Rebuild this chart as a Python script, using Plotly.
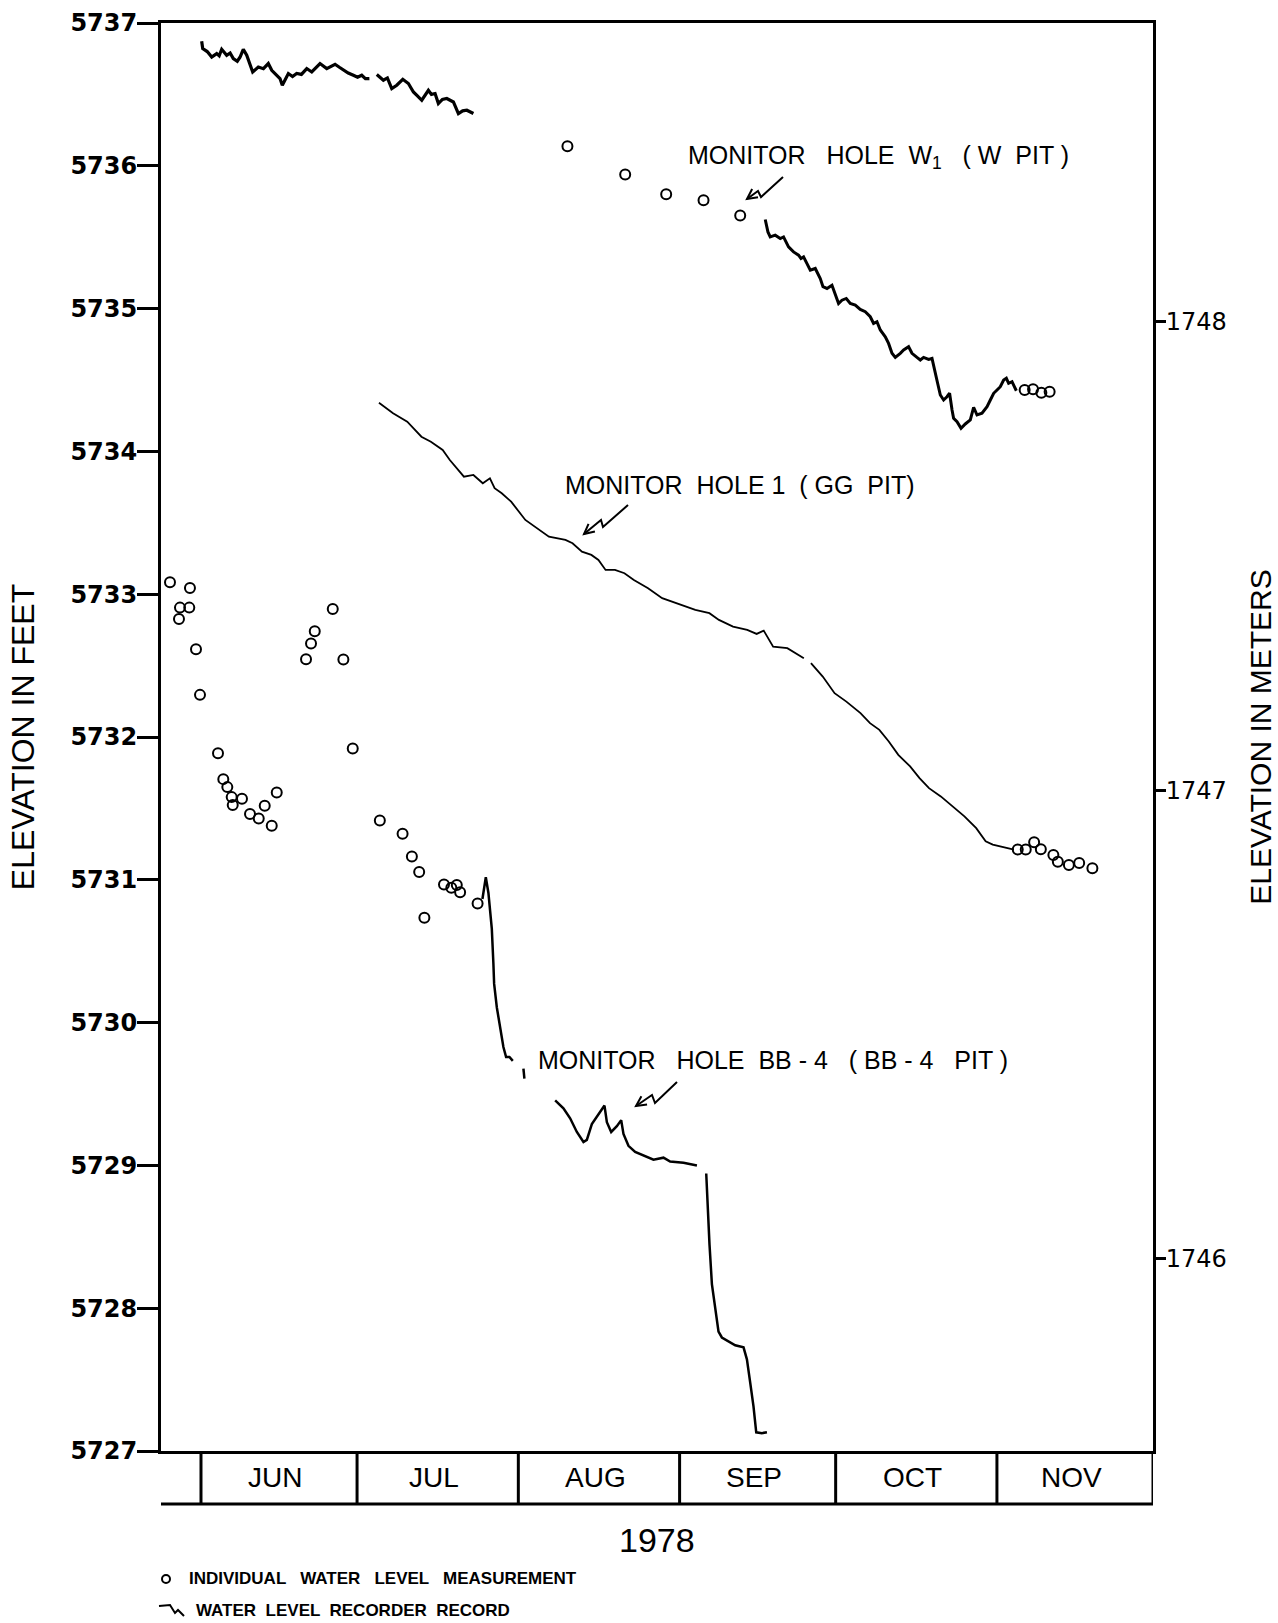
import math
import pandas as pd
import plotly.graph_objects as go

# ---------------------------------------------------------------------------
# Water-level data, 1978.  Time is day-of-year (1 = Jan 1), level in feet.
# None breaks a recorder trace where the chart has gaps.
# ---------------------------------------------------------------------------

# Monitor hole W1 (W pit): recorder record, June-July
w1_rec_early = [
    (152.13, 5736.872), (152.33, 5736.821), (153.20, 5736.800), (154.06, 5736.762),
    (155.02, 5736.786), (155.50, 5736.770), (155.98, 5736.816), (156.94, 5736.774),
    (157.60, 5736.790), (158.21, 5736.751), (158.98, 5736.732), (159.50, 5736.760),
    (160.13, 5736.816), (160.79, 5736.774), (161.94, 5736.657), (163.02, 5736.692),
    (164.00, 5736.680), (164.94, 5736.716), (165.60, 5736.669), (166.40, 5736.640),
    (167.19, 5736.611), (167.63, 5736.564), (168.79, 5736.646), (169.60, 5736.625),
    (170.40, 5736.646), (171.30, 5736.640), (172.33, 5736.681), (173.29, 5736.657),
    (174.10, 5736.690), (174.88, 5736.716), (176.17, 5736.681), (177.00, 5736.700),
    (177.77, 5736.711), (178.60, 5736.690), (179.37, 5736.669), (180.30, 5736.650),
    (181.29, 5736.634), (182.10, 5736.620), (182.90, 5736.634), (183.60, 5736.610),
    (184.37, 5736.611), (None, None),
    (185.79, 5736.639), (187.06, 5736.599), (187.83, 5736.615), (188.67, 5736.541),
    (189.63, 5736.564), (190.79, 5736.606), (191.87, 5736.576), (192.83, 5736.517),
    (193.60, 5736.490), (194.44, 5736.459), (195.71, 5736.529), (196.30, 5736.500),
    (197.00, 5736.506), (197.63, 5736.436), (198.40, 5736.465), (199.25, 5736.471),
    (200.52, 5736.447), (201.48, 5736.366), (202.30, 5736.385), (203.10, 5736.389),
    (204.37, 5736.366),
]

# Monitor hole W1: recorder record, September-November
w1_rec_late = [
    (260.46, 5735.624), (260.98, 5735.537), (261.42, 5735.502), (262.38, 5735.514),
    (263.35, 5735.491), (263.98, 5735.502), (264.94, 5735.432), (265.90, 5735.397),
    (266.87, 5735.374), (267.33, 5735.351), (267.83, 5735.362), (268.48, 5735.316),
    (269.12, 5735.269), (270.08, 5735.281), (271.04, 5735.211), (271.56, 5735.153),
    (272.33, 5735.141), (273.29, 5735.164), (273.92, 5735.106), (274.56, 5735.036),
    (275.21, 5735.059), (276.04, 5735.071), (276.81, 5735.036), (277.77, 5735.024),
    (278.73, 5734.994), (279.69, 5734.978), (280.65, 5734.943), (281.29, 5734.896),
    (281.94, 5734.908), (282.58, 5734.850), (283.54, 5734.803), (284.17, 5734.756),
    (284.83, 5734.687), (285.46, 5734.658), (286.42, 5734.687), (287.06, 5734.710),
    (288.02, 5734.733), (288.67, 5734.687), (289.63, 5734.658), (290.27, 5734.640),
    (290.90, 5734.658), (291.87, 5734.644), (292.52, 5734.651), (292.96, 5734.570),
    (293.60, 5734.477), (294.12, 5734.395), (294.75, 5734.360), (295.40, 5734.383),
    (295.90, 5734.407), (296.37, 5734.290), (296.67, 5734.232), (297.33, 5734.208),
    (298.10, 5734.162), (298.92, 5734.192), (299.88, 5734.220), (300.52, 5734.309),
    (301.17, 5734.255), (302.13, 5734.267), (303.10, 5734.313), (303.73, 5734.360),
    (304.37, 5734.407), (305.02, 5734.430), (305.65, 5734.453), (306.29, 5734.500),
    (306.81, 5734.512), (307.25, 5734.477), (307.90, 5734.488), (308.35, 5734.453),
    (308.73, 5734.425),
]

# Monitor hole W1: individual measurements
w1_obs = [
    (222.44, 5736.137), (233.54, 5735.939), (241.42, 5735.801), (248.60, 5735.759),
    (255.65, 5735.652), (310.33, 5734.430), (311.94, 5734.435), (313.54, 5734.411),
    (315.13, 5734.418),
]

# Monitor hole 1 (GG pit): recorder record
gg_rec = [
    (186.21, 5734.341), (188.92, 5734.267), (191.65, 5734.208), (194.37, 5734.103),
    (196.19, 5734.068), (198.46, 5734.010), (199.83, 5733.940), (201.17, 5733.882),
    (202.54, 5733.823), (204.37, 5733.835), (206.17, 5733.777), (207.54, 5733.812),
    (208.44, 5733.742), (209.81, 5733.707), (211.62, 5733.648), (214.35, 5733.520),
    (216.15, 5733.473), (218.88, 5733.403), (222.06, 5733.380), (223.42, 5733.357),
    (225.23, 5733.298), (227.04, 5733.275), (228.40, 5733.240), (229.77, 5733.170),
    (231.58, 5733.170), (233.40, 5733.147), (235.21, 5733.100), (237.94, 5733.042),
    (240.65, 5732.972), (242.48, 5732.948), (245.19, 5732.913), (247.02, 5732.890),
    (249.73, 5732.867), (251.56, 5732.820), (254.27, 5732.773), (257.00, 5732.750),
    (258.81, 5732.722), (260.17, 5732.745), (261.98, 5732.633), (264.71, 5732.622),
    (267.88, 5732.552), (None, None),
    (269.25, 5732.517), (271.52, 5732.423), (273.79, 5732.307), (276.06, 5732.248),
    (278.77, 5732.167), (280.60, 5732.097), (282.40, 5732.050), (284.21, 5731.969),
    (286.04, 5731.875), (288.31, 5731.794), (290.12, 5731.712), (291.94, 5731.642),
    (294.21, 5731.584), (296.48, 5731.514), (298.75, 5731.444), (301.02, 5731.362),
    (302.83, 5731.269), (304.19, 5731.246), (306.90, 5731.223), (308.27, 5731.211),
]

# Monitor hole 1: individual measurements
gg_obs = [
    (309.00, 5731.212), (310.54, 5731.212), (312.15, 5731.263), (313.44, 5731.214),
    (315.85, 5731.173), (316.71, 5731.127), (318.83, 5731.104), (320.81, 5731.117),
    (323.35, 5731.081),
]

# Monitor hole BB-4 (BB-4 pit): individual measurements
bb4_obs = [
    (146.04, 5733.084), (149.88, 5733.044), (147.96, 5732.906), (149.75, 5732.906),
    (147.77, 5732.827), (151.04, 5732.615), (151.81, 5732.295), (155.27, 5731.887),
    (156.29, 5731.705), (157.06, 5731.649), (157.90, 5731.579), (158.10, 5731.523),
    (159.88, 5731.567), (161.42, 5731.460), (163.10, 5731.430), (164.25, 5731.519),
    (165.60, 5731.379), (166.56, 5731.612), (172.19, 5732.545), (173.15, 5732.654),
    (173.87, 5732.741), (177.33, 5732.897), (179.37, 5732.542), (181.17, 5731.919),
    (186.38, 5731.416), (190.75, 5731.323), (192.54, 5731.163), (193.94, 5731.055),
    (194.94, 5730.735), (198.71, 5730.967), (200.12, 5730.945), (201.17, 5730.963),
    (201.81, 5730.913), (205.17, 5730.834),
]

# Monitor hole BB-4: recorder record
bb4_rec = [
    (206.10, 5730.866), (206.75, 5731.018), (207.25, 5730.908), (207.90, 5730.658),
    (208.21, 5730.410), (208.35, 5730.271), (208.87, 5730.106), (209.50, 5729.967),
    (210.13, 5729.829), (210.65, 5729.759), (211.29, 5729.759), (211.94, 5729.732),
    (None, None),
    (213.98, 5729.677), (214.17, 5729.607),
    (None, None),
    (220.08, 5729.455), (221.67, 5729.400), (222.96, 5729.330), (224.25, 5729.234),
    (225.52, 5729.164), (226.17, 5729.179), (227.13, 5729.289), (228.10, 5729.344),
    (229.56, 5729.419), (230.02, 5729.303), (230.85, 5729.234), (231.94, 5729.275),
    (232.77, 5729.317), (233.21, 5729.220), (234.17, 5729.137), (235.46, 5729.095),
    (237.06, 5729.068), (238.98, 5729.040), (240.90, 5729.054), (242.19, 5729.027),
    (244.75, 5729.018), (247.33, 5728.999),
    (None, None),
    (249.12, 5728.943), (249.37, 5728.722), (249.75, 5728.445), (250.21, 5728.169),
    (250.85, 5728.003), (251.48, 5727.836), (252.13, 5727.795), (253.40, 5727.767),
    (254.69, 5727.740), (256.29, 5727.726), (256.94, 5727.642), (257.58, 5727.477),
    (258.21, 5727.311), (258.73, 5727.131), (259.83, 5727.125), (260.79, 5727.131),
]

# Labels
months = ["JUN", "JUL", "AUG", "SEP", "OCT", "NOV"]
month_starts = ["1978-06-01", "1978-07-01", "1978-08-01", "1978-09-01",
                "1978-10-01", "1978-11-01", "1978-12-01"]
feet_ticks = [5727, 5728, 5729, 5730, 5731, 5732, 5733, 5734, 5735, 5736, 5737]
meter_ticks = [1746, 1747, 1748]
FT_PER_M = 3.28084

# ---------------------------------------------------------------------------
BASE = pd.Timestamp("1978-01-01")


def to_dates(days):
    return [None if d is None else BASE + pd.Timedelta(days=d - 1) for d in days]


def split(pairs):
    days = [p[0] for p in pairs]
    vals = [p[1] for p in pairs]
    return to_dates(days), vals


W, H = 1278, 1623
ML, MR, MT, MB = 161, 125, 23, 172
PW, PH = W - ML - MR, H - MT - MB


def px(x):
    return (x - ML) / PW


def py(y):
    return (H - MB - y) / PH


def path_of(points):
    return "M " + " L ".join(f"{px(x):.5f},{py(y):.5f}" for x, y in points)


INK = "#000000"
FONT = "Liberation Sans, Arial, sans-serif"

fig = go.Figure()


def add_line(pairs, width):
    x, y = split(pairs)
    fig.add_trace(go.Scatter(x=x, y=y, mode="lines", connectgaps=False,
                             line=dict(color=INK, width=width, shape="linear"),
                             showlegend=False, hoverinfo="skip"))


def add_points(pairs):
    x, y = split(pairs)
    fig.add_trace(go.Scatter(x=x, y=y, mode="markers",
                             marker=dict(symbol="circle-open", size=10, color=INK,
                                         line=dict(width=2, color=INK)),
                             showlegend=False, hoverinfo="skip"))


add_line(w1_rec_early, 3.2)
add_line(w1_rec_late, 3)
add_line(gg_rec, 1.8)
add_line(bb4_rec, 2.5)
add_points(w1_obs)
add_points(gg_obs)
add_points(bb4_obs)

# invisible trace carrying the metric axis
fig.add_trace(go.Scatter(x=[None], y=[None], yaxis="y2", showlegend=False,
                         hoverinfo="skip"))

shapes = []
# month strip under the plot
strip_bottom = py(1504)
shapes.append(dict(type="line", xref="x", yref="paper",
                   x0="1978-05-24 07:30", x1="1978-12-01",
                   y0=strip_bottom, y1=strip_bottom,
                   line=dict(color=INK, width=3)))
for ms in month_starts:
    shapes.append(dict(type="line", xref="x", yref="paper", x0=ms, x1=ms,
                       y0=0, y1=strip_bottom, line=dict(color=INK, width=3)))

annotations = []
for i, m in enumerate(months):
    a = pd.Timestamp(month_starts[i])
    b = pd.Timestamp(month_starts[i + 1])
    annotations.append(dict(x=a + (b - a) / 2 - pd.Timedelta(days=0.7),
                            y=strip_bottom / 2, xref="x",
                            yref="paper", text=m, showarrow=False,
                            font=dict(family=FONT, size=28, color=INK),
                            xanchor="center", yanchor="middle"))

annotations.append(dict(x=0.5, y=py(1540), xref="paper", yref="paper",
                        text="1978", showarrow=False,
                        font=dict(family=FONT, size=34, color=INK),
                        xanchor="center", yanchor="middle"))

# series labels
labels = [
    ("MONITOR   HOLE  W<sub>1</sub>   ( W  PIT )", 686, 157),
    ("MONITOR  HOLE 1  ( GG  PIT)", 563, 485),
    ("MONITOR   HOLE  BB - 4   ( BB - 4   PIT )", 536, 1060),
]
for text, lx, ly in labels:
    annotations.append(dict(x=px(lx), y=py(ly), xref="paper", yref="paper",
                            text=text, showarrow=False,
                            font=dict(family=FONT, size=25, color=INK),
                            xanchor="left", yanchor="middle"))

# lightning-bolt pointers from the labels to the recorder traces
pointers = [
    [(783, 177), (761, 197), (758, 191), (747, 199)],
    [(628, 505), (603, 527), (601, 520), (584, 534)],
    [(677, 1082), (655, 1103), (652, 1095), (636, 1106)],
]
for pts in pointers:
    shapes.append(dict(type="path", xref="paper", yref="paper", path=path_of(pts),
                       line=dict(color=INK, width=2)))
    (hx, hy), (tx, ty) = pts[2], pts[3]
    dx, dy = tx - hx, ty - hy
    n = math.hypot(dx, dy)
    ux, uy = dx / n, dy / n
    wing_a = (tx - 10 * ux - 5 * uy, ty - 10 * uy + 5 * ux)
    wing_b = (tx - 10 * ux + 5 * uy, ty - 10 * uy - 5 * ux)
    shapes.append(dict(type="path", xref="paper", yref="paper",
                       path=path_of([wing_a, (tx, ty), wing_b]),
                       line=dict(color=INK, width=2)))

# key
shapes.append(dict(type="circle", xref="paper", yref="paper",
                   x0=px(162), x1=px(170), y0=py(1583), y1=py(1575),
                   line=dict(color=INK, width=2)))
annotations.append(dict(x=px(187), y=py(1579), xref="paper", yref="paper",
                        text="<b>INDIVIDUAL   WATER   LEVEL   MEASUREMENT</b>",
                        showarrow=False,
                        font=dict(family=FONT, size=17, color=INK),
                        xanchor="left", yanchor="middle"))
key_path = [(159, 1606), (170, 1605), (175, 1613), (178, 1610), (184, 1616)]
shapes.append(dict(type="path", xref="paper", yref="paper", path=path_of(key_path),
                   line=dict(color=INK, width=2)))
annotations.append(dict(x=px(194), y=py(1610), xref="paper", yref="paper",
                        text="<b>WATER  LEVEL  RECORDER  RECORD</b>", showarrow=False,
                        font=dict(family=FONT, size=17, color=INK),
                        xanchor="left", yanchor="middle"))

fig.update_layout(
    width=W, height=H,
    margin=dict(l=ML, r=MR, t=MT, b=MB, pad=0),
    paper_bgcolor="white", plot_bgcolor="white",
    showlegend=False,
    xaxis=dict(type="date", range=["1978-05-24 07:30", "1978-12-01"],
               showgrid=False, zeroline=False, showticklabels=False, ticks="",
               showline=True, linewidth=3, linecolor=INK, mirror=True,
               fixedrange=True),
    yaxis=dict(range=[5727, 5737], tickvals=feet_ticks,
               ticktext=[str(v) for v in feet_ticks],
               showgrid=False, zeroline=False, ticks="outside", ticklen=21,
               tickwidth=3, tickcolor=INK, showline=True, linewidth=3,
               linecolor=INK, ticklabelstandoff=-5, automargin=False,
               tickfont=dict(family="DejaVu Sans, sans-serif", size=24, color=INK,
                             weight="bold"),
               title=dict(text="ELEVATION IN FEET", standoff=27,
                          font=dict(family=FONT, size=32, color=INK))),
    yaxis2=dict(overlaying="y", side="right",
                range=[5727 / FT_PER_M, 5737 / FT_PER_M], tickvals=meter_ticks,
                ticktext=[str(v) for v in meter_ticks],
                showgrid=False, zeroline=False, ticks="outside", ticklen=10,
                tickwidth=3, tickcolor=INK, showline=True, linewidth=3,
                linecolor=INK, ticklabelstandoff=-5, automargin=False,
                tickfont=dict(family="DejaVu Sans, sans-serif", size=24, color=INK),
                title=dict(text="ELEVATION IN METERS", standoff=25,
                           font=dict(family=FONT, size=30, color=INK))),
    shapes=shapes,
    annotations=annotations,
)

fig.write_html("out.html")
